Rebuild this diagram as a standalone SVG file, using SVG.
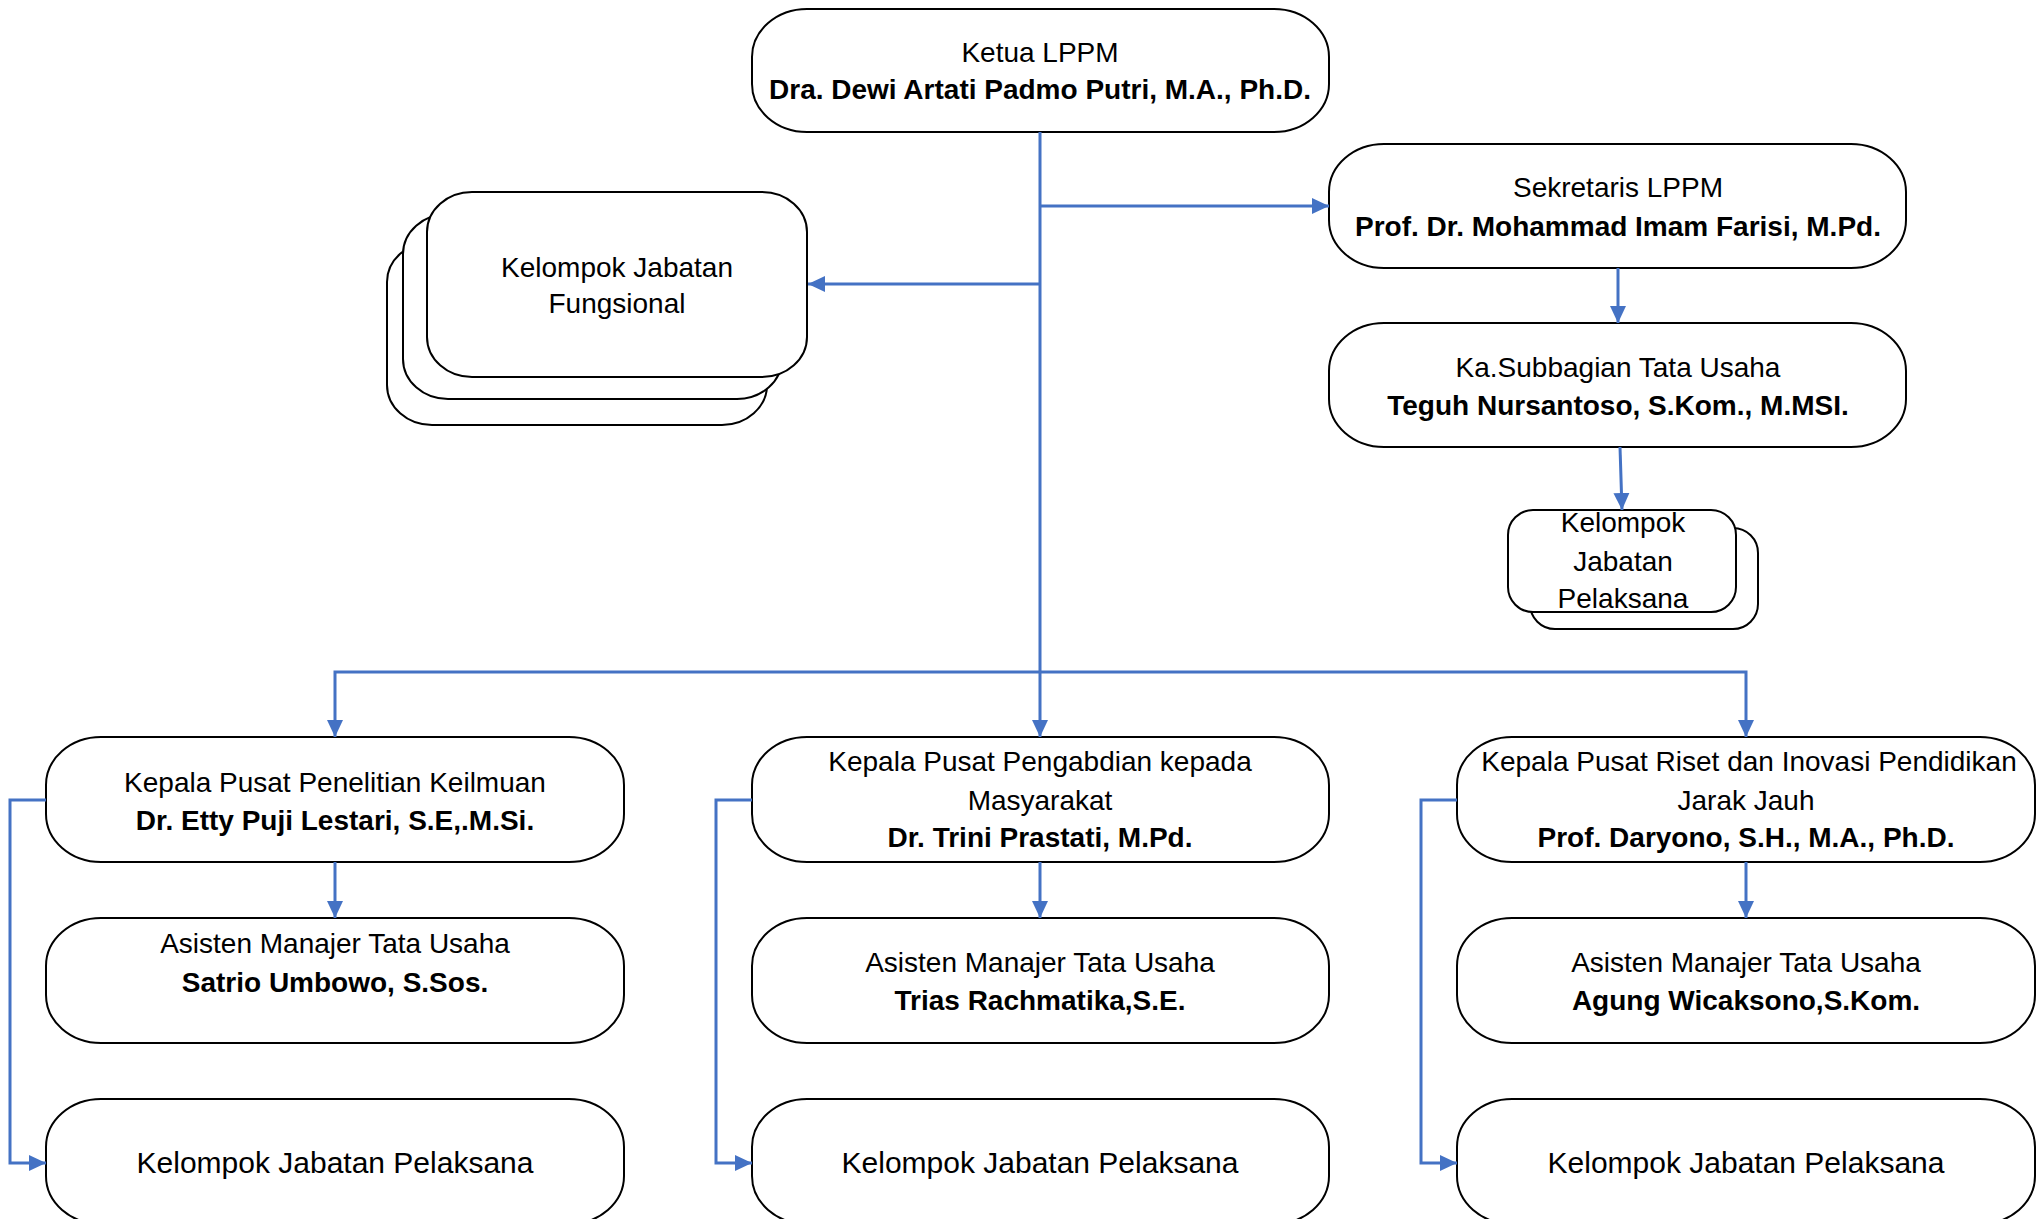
<svg xmlns="http://www.w3.org/2000/svg" width="2043" height="1219" viewBox="0 0 2043 1219">
<style>
.box{fill:#fff;stroke:#000;stroke-width:2}
.t{font-family:"Liberation Sans",Arial,sans-serif;font-size:28px;fill:#000;text-anchor:middle}
.b{font-weight:bold}
.big{font-size:30px}
.c{fill:none;stroke:#4472C4;stroke-width:3}
</style>
<defs>
<marker id="ah" markerUnits="userSpaceOnUse" markerWidth="18" markerHeight="18" refX="17" refY="8" orient="auto" viewBox="0 0 18 16">
<path d="M0,0 L17,8 L0,16 z" fill="#4472C4"/>
</marker>
</defs>
<rect width="2043" height="1219" fill="#fff"/>

<g id="ketua">
<rect class="box" x="752" y="9" width="577" height="123" rx="55" ry="48"/>
<text class="t" x="1040" y="62">Ketua LPPM</text>
<text class="t b" x="1040" y="99">Dra. Dewi Artati Padmo Putri, M.A., Ph.D.</text>
</g>

<g id="fungsional">
<rect class="box" x="387" y="242" width="380" height="183" rx="45" ry="40"/>
<rect class="box" x="403" y="214" width="379" height="185" rx="45" ry="40"/>
<rect class="box" x="427" y="192" width="380" height="185" rx="45" ry="40"/>
<text class="t" x="617" y="277">Kelompok Jabatan</text>
<text class="t" x="617" y="313">Fungsional</text>
</g>

<g id="sekretaris">
<rect class="box" x="1329" y="144" width="577" height="124" rx="55" ry="48"/>
<text class="t" x="1618" y="197">Sekretaris LPPM</text>
<text class="t b" x="1618" y="236">Prof. Dr. Mohammad Imam Farisi, M.Pd.</text>
</g>

<g id="kasubag">
<rect class="box" x="1329" y="323" width="577" height="124" rx="55" ry="48"/>
<text class="t" x="1618" y="377">Ka.Subbagian Tata Usaha</text>
<text class="t b" x="1618" y="415">Teguh Nursantoso, S.Kom., M.MSI.</text>
</g>

<g id="pelaksana-lppm">
<rect class="box" x="1530" y="528" width="228" height="101" rx="25" ry="25"/>
<rect class="box" x="1508" y="510" width="228" height="102" rx="25" ry="25"/>
<text class="t" x="1623" y="532">Kelompok</text>
<text class="t" x="1623" y="571">Jabatan</text>
<text class="t" x="1623" y="608">Pelaksana</text>
</g>

<g id="penelitian">
<rect class="box" x="46" y="737" width="578" height="125" rx="55" ry="48"/>
<text class="t" x="335" y="792">Kepala Pusat Penelitian Keilmuan</text>
<text class="t b" x="335" y="830">Dr. Etty Puji Lestari, S.E,.M.Si.</text>
</g>

<g id="asisten-penelitian">
<rect class="box" x="46" y="918" width="578" height="125" rx="55" ry="48"/>
<text class="t" x="335" y="953">Asisten Manajer Tata Usaha</text>
<text class="t b" x="335" y="992">Satrio Umbowo, S.Sos.</text>
</g>

<g id="pelaksana-penelitian">
<rect class="box" x="46" y="1099" width="578" height="125" rx="55" ry="48"/>
<text class="t big" x="335" y="1173">Kelompok Jabatan Pelaksana</text>
</g>

<g id="pengabdian">
<rect class="box" x="752" y="737" width="577" height="125" rx="55" ry="48"/>
<text class="t" x="1040" y="771">Kepala Pusat Pengabdian kepada</text>
<text class="t" x="1040" y="810">Masyarakat</text>
<text class="t b" x="1040" y="847">Dr. Trini Prastati, M.Pd.</text>
</g>

<g id="asisten-pengabdian">
<rect class="box" x="752" y="918" width="577" height="125" rx="55" ry="48"/>
<text class="t" x="1040" y="972">Asisten Manajer Tata Usaha</text>
<text class="t b" x="1040" y="1010">Trias Rachmatika,S.E.</text>
</g>

<g id="pelaksana-pengabdian">
<rect class="box" x="752" y="1099" width="577" height="125" rx="55" ry="48"/>
<text class="t big" x="1040" y="1173">Kelompok Jabatan Pelaksana</text>
</g>

<g id="riset">
<rect class="box" x="1457" y="737" width="578" height="125" rx="55" ry="48"/>
<text class="t" x="1749" y="771">Kepala Pusat Riset dan Inovasi Pendidikan</text>
<text class="t" x="1746" y="810">Jarak Jauh</text>
<text class="t b" x="1746" y="847">Prof. Daryono, S.H., M.A., Ph.D.</text>
</g>

<g id="asisten-riset">
<rect class="box" x="1457" y="918" width="578" height="125" rx="55" ry="48"/>
<text class="t" x="1746" y="972">Asisten Manajer Tata Usaha</text>
<text class="t b" x="1746" y="1010">Agung Wicaksono,S.Kom.</text>
</g>

<g id="pelaksana-riset">
<rect class="box" x="1457" y="1099" width="578" height="125" rx="55" ry="48"/>
<text class="t big" x="1746" y="1173">Kelompok Jabatan Pelaksana</text>
</g>

<g id="connectors">
<path class="c" d="M1040,132 V737" marker-end="url(#ah)"/>
<path class="c" d="M1040,206 H1329" marker-end="url(#ah)"/>
<path class="c" d="M1040,284 H808" marker-end="url(#ah)"/>
<path class="c" d="M1040,672 H335 V737" marker-end="url(#ah)"/>
<path class="c" d="M1040,672 H1746 V737" marker-end="url(#ah)"/>
<path class="c" d="M1618,268 V323" marker-end="url(#ah)"/>
<path class="c" d="M1620,447 L1622,510" marker-end="url(#ah)"/>
<path class="c" d="M335,862 V918" marker-end="url(#ah)"/>
<path class="c" d="M1040,862 V918" marker-end="url(#ah)"/>
<path class="c" d="M1746,862 V918" marker-end="url(#ah)"/>
<path class="c" d="M46,800 H10 V1163 H46" marker-end="url(#ah)"/>
<path class="c" d="M752,800 H716 V1163 H752" marker-end="url(#ah)"/>
<path class="c" d="M1457,800 H1421 V1163 H1457" marker-end="url(#ah)"/>
</g>
</svg>
